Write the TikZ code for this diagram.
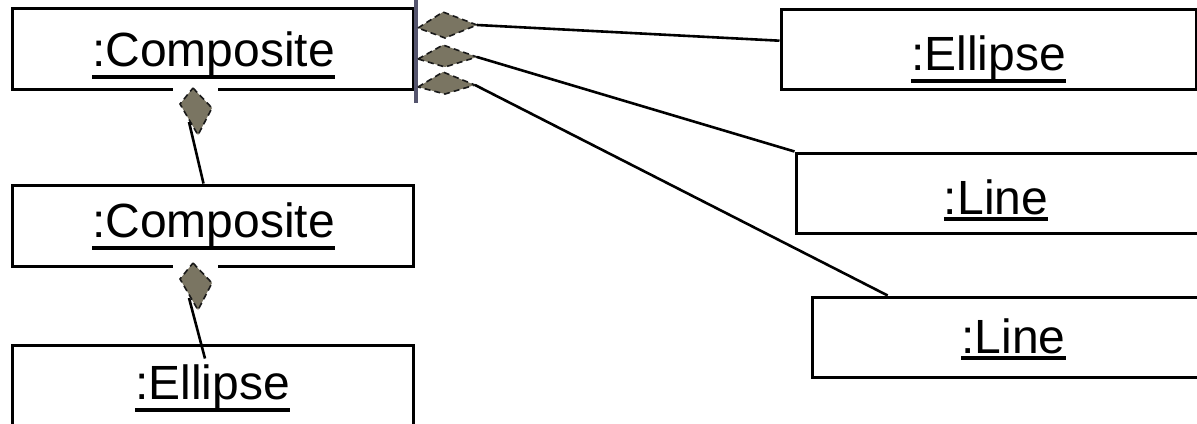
\documentclass[tikz,border=0pt]{standalone}
\usepackage{fontspec}
\setmainfont{Liberation Sans}
\usetikzlibrary{calc}

% object name, underlined with a heavy rule just under the descenders
\newcommand{\objname}[1]{%
  \setbox0\hbox{#1}%
  \leavevmode
  \rlap{\raisebox{\dimexpr-0.6\dp0-3.5pt\relax}{\rule{\wd0}{2pt}}}%
  \box0}

\definecolor{diamondfill}{RGB}{122,117,98}
\definecolor{barcol}{RGB}{85,85,110}

\tikzset{
  objbox/.style={draw=black, line width=1.5pt, fill=white, inner sep=0pt,
                 minimum width=#1},
  objtext/.style={anchor=base, inner sep=0pt,
                  font=\fontsize{24}{28}\selectfont},
  link/.style={draw=black, line width=1.3pt},
  agg/.style={fill=diamondfill, draw=black!90, densely dashed, line width=0.8pt},
  patch/.style={fill=white, draw=none},
}

\begin{document}
\begin{tikzpicture}[x=0.5pt,y=-0.5pt]
  \useasboundingbox (0,0) rectangle (1197,423);
  \clip (0,0) rectangle (1197,423);

  % object boxes
  \node[objbox=200.5pt, minimum height=40.5pt] (A) at (212.5,48.5) {};
  \node[objbox=200.5pt, minimum height=40.5pt] (B) at (212.5,225.5) {};
  \node[objbox=200.5pt, minimum height=42pt]   (C) at (212.5,387) {};
  \node[objbox=207.5pt, minimum height=40pt]   (D) at (988.5,49) {};
  \node[objbox=203pt,   minimum height=40pt]   (E) at (999,193) {};
  \node[objbox=201.5pt, minimum height=40pt]   (F) at (1013.5,337) {};

  % object names
  \node[objtext] (At) at (213.5,66)  {\objname{:Composite}};
  \node[objtext] (Bt) at (213.5,237) {\objname{:Composite}};
  \node[objtext] (Ct) at (212.5,399) {\objname{:Ellipse}};
  \node[objtext] (Dt) at (988.5,70)  {\objname{:Ellipse}};
  \node[objtext] (Et) at (996,214)   {\objname{:Line}};
  \node[objtext] (Ft) at (1013.5,353){\objname{:Line}};

  % white backgrounds behind the vertical diamonds
  \fill[patch] (173,86) rectangle (218,140);
  \fill[patch] (173,263) rectangle (218,315);

  % handle bar on the right of the top composite
  \draw[barcol, line width=2pt] (416,0) -- (416,103);

  % aggregation diamonds
  \draw[agg] (418,28) -- (443,12) -- (477,25) -- (445,38) -- cycle;
  \draw[agg] (418,59) -- (443,45) -- (477,57) -- (445,67) -- cycle;
  \draw[agg] (418,87) -- (443,72) -- (475,85) -- (445,94) -- cycle;
  \draw[agg] (193,88) -- (212,108) -- (198,135) -- (180,104) -- cycle;
  \draw[agg] (193,263) -- (212,283) -- (198,310) -- (180,279) -- cycle;

  \coordinate (h1) at (477,25);
  \coordinate (h2) at (477,57);
  \coordinate (h3) at (475,85);
  \coordinate (v1) at (189,122);
  \coordinate (v2) at (189,298);

  % links
  \draw[link] (h1) -- ($(D.north west)!0.4!(D.south west)$);
  \draw[link] (h2) -- (E.north west);
  \draw[link] (h3) -- ($(F.north west)!0.19!(F.north east)$);
  \draw[link] (v1) -- ($(B.north)+(-9,0)$);
  \draw[link] (v2) -- ($(C.north)+(-7.5,15)$);
\end{tikzpicture}
\end{document}
